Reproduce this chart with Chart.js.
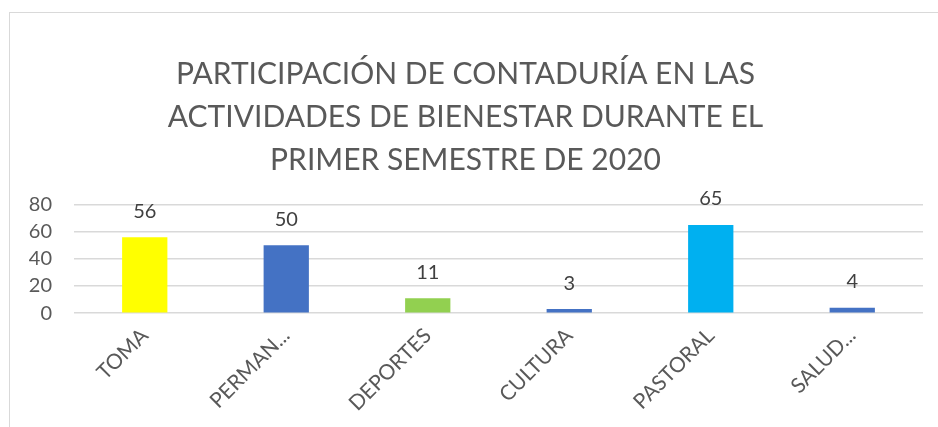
<!DOCTYPE html>
<html lang="es">
<head>
  <meta charset="UTF-8">
  <title>Participación de Contaduría</title>
  <style>
    html, body { margin: 0; padding: 0; background: #fff; overflow: hidden; }
    .wrapper { position: relative; width: 938px; height: 427px; }
    .frame {
      position: absolute; left: 9px; top: 12px; width: 1000px; height: 1000px;
      border: 1.5px solid #d9d9d9; box-sizing: border-box;
    }
    canvas { position: absolute; left: 0; top: 0; }
  </style>
</head>
<body>
  <div class="wrapper">
    <div class="frame"></div>
    <canvas id="barChart" width="938" height="427"></canvas>
  </div>

  <script src="https://cdn.jsdelivr.net/npm/chart.js"></script>
  <script>
    const categories = ['TOMA', 'PERMAN...', 'DEPORTES', 'CULTURA', 'PASTORAL', 'SALUD...']
    const values = [56, 50, 11, 3, 65, 4]
    const barColors = ['#FFFF00', '#4472C4', '#92D050', '#4472C4', '#00B0F0', '#4472C4']
    const yTicks = [0, 20, 40, 60, 80]
    const titleLines = [
      'PARTICIPACIÓN DE CONTADURÍA EN LAS',
      'ACTIVIDADES DE BIENESTAR DURANTE EL',
      'PRIMER SEMESTRE DE 2020'
    ]

    const fontFamily = 'Lato, "Open Sans", sans-serif'

    // draws the value over each bar
    const valueLabels = {
      id: 'valueLabels',
      afterDatasetsDraw(chart) {
        const ctx = chart.ctx
        const meta = chart.getDatasetMeta(0)
        ctx.save()
        ctx.font = '20px ' + fontFamily
        ctx.fillStyle = '#404040'
        ctx.textAlign = 'center'
        ctx.textBaseline = 'bottom'
        meta.data.forEach((bar, i) => {
          ctx.fillText(String(values[i]), bar.x, bar.y - 16)
        })
        ctx.restore()
      }
    }

    const chart = new Chart(document.getElementById('barChart'), {
      type: 'bar',
      data: {
        labels: categories,
        datasets: [{
          data: values,
          backgroundColor: barColors,
          borderWidth: 0,
          barPercentage: 0.32,
          categoryPercentage: 1
        }]
      },
      options: {
        responsive: false,
        animation: false,
        layout: { padding: { left: 8, right: 15, top: 0, bottom: 9 } },
        plugins: {
          legend: { display: false },
          tooltip: { enabled: false },
          title: {
            display: true,
            text: titleLines,
            color: '#595959',
            font: { family: fontFamily, size: 30, weight: 'normal', lineHeight: 1.43 },
            padding: { top: 53, bottom: 23 }
          }
        },
        scales: {
          x: {
            grid: { display: false },
            border: { display: false },
            ticks: {
              color: '#595959',
              font: { family: fontFamily, size: 21 },
              maxRotation: 45,
              minRotation: 45,
              padding: 2
            }
          },
          y: {
            min: 0,
            max: 80,
            afterBuildTicks(axis) { axis.ticks = yTicks.map(v => ({ value: v })) },
            // fixed width so the plot starts where the reference does
            afterFit(axis) { axis.width = 66 },
            grid: { color: '#d9d9d9', lineWidth: 1.5, drawTicks: false },
            border: { display: false },
            ticks: {
              color: '#595959',
              font: { family: fontFamily, size: 20 },
              padding: 22,
              autoSkip: false
            }
          }
        }
      },
      plugins: [valueLabels]
    })
  </script>
</body>
</html>
